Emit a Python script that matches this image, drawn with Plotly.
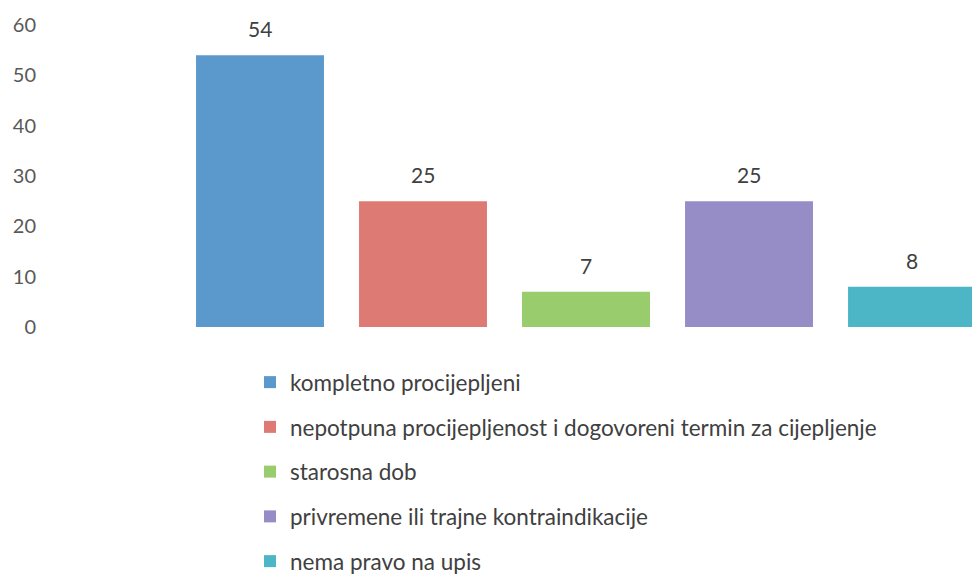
import plotly.graph_objects as go

categories = [
    "kompletno procijepljeni",
    "nepotpuna procijepljenost i dogovoreni termin za cijepljenje",
    "starosna dob",
    "privremene ili trajne kontraindikacije",
    "nema pravo na upis",
]
values = [54, 25, 7, 25, 8]
colors = ["#5B99CC", "#DE7A74", "#98CC6C", "#978DC6", "#4DB6C6"]
y_ticks = [0, 10, 20, 30, 40, 50, 60]

FONT = "Lato"
fig = go.Figure()
for i, (c, v, col) in enumerate(zip(categories, values, colors)):
    fig.add_trace(go.Bar(
        x=[c], y=[v], name=c, marker=dict(color=col, line=dict(width=0)),
        width=0.785, legendgroup=f"g{i}",
    ))
    fig.add_annotation(x=c, y=v, text=str(v), showarrow=False, yanchor="bottom",
                       yshift=12, font=dict(family=FONT, size=21, color="#404040"))

fig.update_layout(
    width=972, height=574,
    margin=dict(l=45, r=0, t=25, b=247, autoexpand=False),
    paper_bgcolor="white", plot_bgcolor="white",
    barmode="overlay",
    font=dict(family=FONT, color="#404040"),
    xaxis=dict(type="category", categoryorder="array", categoryarray=categories,
               range=[-1.319, 4.368], showticklabels=False, showgrid=False,
               zeroline=False, showline=False, ticks=""),
    yaxis=dict(range=[0, 60], tickvals=y_ticks, showgrid=False, zeroline=False,
               showline=False, ticks="", tickfont=dict(family=FONT, size=20, color="#595959"),
               ticklabelstandoff=8),
    legend=dict(x=(250 - 45) / 927, y=(327 - 361) / 302,
                xanchor="left", yanchor="top", orientation="v",
                font=dict(family=FONT, size=22.5, color="#404040"),
                tracegroupgap=12.5, itemwidth=30, bgcolor="rgba(0,0,0,0)"),
    showlegend=True,
)
fig.write_html("out.html", config={"displayModeBar": False},
               post_script="document.body.style.margin='0';document.body.style.overflow='hidden';")
